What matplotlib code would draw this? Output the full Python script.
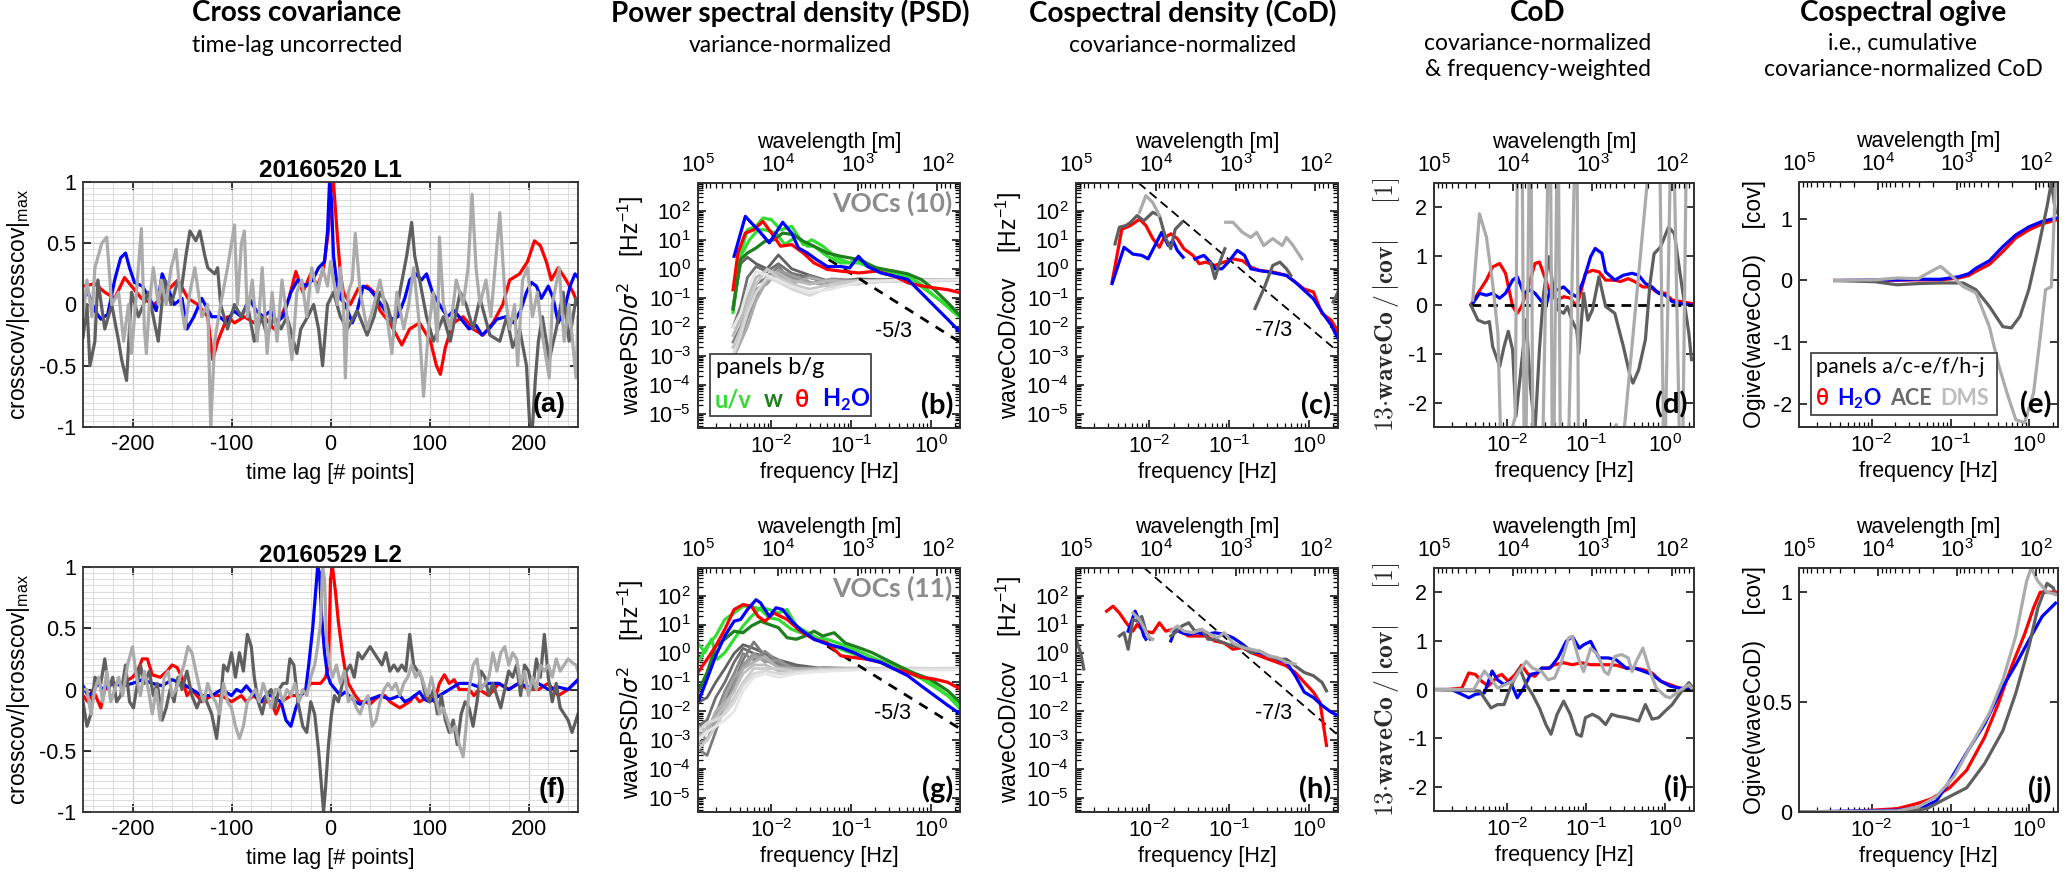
import matplotlib
matplotlib.use('Agg')
import matplotlib.pyplot as plt
from matplotlib import font_manager
from matplotlib.ticker import MultipleLocator, FixedLocator, FuncFormatter, LogLocator, NullFormatter
from matplotlib.patches import Rectangle
import numpy as np

nan = float('nan')

# ---------------- fonts ----------------
_names = {f.name for f in font_manager.fontManager.ttflist}
if 'Liberation Sans Narrow' in _names:
    AX_FONT = ['Liberation Sans Narrow', 'DejaVu Sans']
    FS = 17
else:
    AX_FONT = ['Liberation Sans', 'DejaVu Sans']
    FS = 15.5
HEAD_FONT = ['Lato', 'DejaVu Sans']
plt.rcParams['font.family'] = AX_FONT
plt.rcParams['axes.unicode_minus'] = False

RED = '#ff0000'
BLUE = '#0000ff'
ACE = '#5f5f5f'
DMS = '#ababab'
UV = '#33dd33'
WW = '#1f7f1f'

U_AIR = 120.0          # m/s, converts frequency to wavelength
F_LIM = (1.2e-3, 2.3)

# ---------------- (a) cross covariance, 20160520 L1 : (lag, value) ----------------
A_RED = [(-250,.15),(-238,.17),(-228,.1),(-218,.05),(-208,.22),(-201,.15),(-191,.05),(-178,0),(-164,.12),
         (-154,.2),(-144,.05),(-134,0),(-124,-.1),(-119,-.45),(-114,-.3),(-104,-.1),(-97,-.15),(-87,-.1),
         (-77,-.15),(-67,-.1),(-57,-.2),(-50,-.1),(-42,.05),(-35,.27),(-28,.1),(-20,.25),(-13,.15),(-7,.3),
         (-2,.6),(1,1),(3,1),(7,.55),(10,.25),(13,.1),(20,0),(28,.13),(37,.15),(44,.1),(50,-.05),(60,-.15),
         (72,-.33),(80,-.2),(90,-.15),(101,-.3),(107,-.5),(111,-.57),(116,-.35),(124,-.15),(134,-.1),
         (144,-.2),(154,-.25),(164,-.15),(174,0),(181,.2),(191,.25),(199,.35),(206,.52),(212,.48),(218,.35),
         (223,.2),(230,.3),(238,.2),(245,.1),(250,0)]
A_BLUE = [(-250,.05),(-245,.1),(-238,-.05),(-232,-.12),(-225,-.08),(-218,.2),(-212,.38),(-207,.42),(-203,.3),
          (-198,.18),(-190,.15),(-183,.05),(-176,-.05),(-170,.25),(-165,.15),(-158,0),(-150,.05),(-145,-.2),
          (-138,-.1),(-130,.05),(-120,-.1),(-112,-.1),(-105,-.15),(-98,-.05),(-90,-.1),(-82,.05),(-75,-.05),
          (-68,-.1),(-60,-.05),(-55,-.15),(-48,-.1),(-40,.1),(-33,.2),(-25,.15),(-18,.2),(-12,.3),(-6,.35),
          (-3,.6),(-1,1),(1,.85),(3,.4),(6,.2),(10,.05),(15,0),(22,-.15),(27,-.05),(33,.15),(40,.12),(47,.05),
          (55,-.05),(62,-.12),(68,-.1),(75,.05),(80,.2),(86,.25),(92,.2),(97,.25),(103,.1),(110,0),(118,-.1),
          (125,-.05),(132,-.12),(140,-.2),(147,-.17),(153,-.25),(160,-.2),(168,-.12),(177,-.1),(185,-.15),
          (192,-.05),(198,.1),(203,.18),(208,.15),(213,.05),(220,.15),(225,.05),(230,-.15),(236,-.05),
          (242,.15),(247,.25),(250,.22)]
A_ACE = [(-250,-.27),(-246,0),(-243,-.5),(-238,-.3),(-235,.2),(-228,-.2),(-221,0),(-214,-.3),(-211,-.45),
         (-206,-.62),(-201,.1),(-194,-.1),(-184,.1),(-174,-.3),(-168,.2),(-161,0),(-154,.2),(-151,.1),
         (-146,.4),(-142,.6),(-136,.52),(-132,.6),(-127,.4),(-124,.3),(-117,.25),(-114,.3),(-111,0),
         (-104,-.2),(-97,0),(-90,-.1),(-84,0),(-77,-.3),(-70,-.1),(-64,-.25),(-57,-.1),(-50,-.2),(-44,-.1),
         (-34,-.4),(-30,-.2),(-23,-.1),(-17,0),(-12,-.2),(-8,-.5),(-3,0),(3,.1),(10,-.1),(17,-.2),(27,-.05),
         (37,-.25),(44,-.1),(50,.1),(57,0),(64,-.2),(70,.1),(77,.4),(82,.67),(85,.4),(90,.2),(97,-.1),
         (104,-.3),(114,-.1),(121,-.3),(131,.1),(137,0),(144,-.2),(151,.05),(161,-.25),(171,-.3),(178,-.1),
         (184,-.35),(191,-.2),(198,-.5),(201,-.95),(204,-1),(207,-.6),(210,-.3),(214,-.1),(221,-.45),
         (228,-.2),(235,.1),(241,-.3),(248,.05),(250,0)]
A_DMS = [(-250,-.1),(-246,.2),(-241,-.1),(-238,.3),(-231,.5),(-226,.55),(-221,0),(-214,.1),(-209,-.3),
         (-204,0),(-201,-.4),(-196,.1),(-191,.62),(-188,-.2),(-186,-.4),(-183,0),(-179,.3),(-174,0),(-171,.2),
         (-166,0),(-161,.3),(-156,.45),(-151,0),(-147,-.2),(-142,.1),(-137,.3),(-130,-.1),(-124,0),(-121,-1),
         (-117,-.3),(-111,0),(-104,.3),(-97,.65),(-94,0),(-90,.5),(-87,.6),(-84,-.1),(-79,.2),(-74,-.3),
         (-69,.3),(-64,-.4),(-59,.1),(-54,-.3),(-49,.2),(-44,-.1),(-39,-.45),(-34,.1),(-29,.2),(-24,-.1),
         (-19,.3),(-13,.1),(-8,.3),(-3,.15),(0,.35),(7,0),(10,.3),(13,0),(15,-.6),(18,.1),(22,.2),(25,.58),
         (30,.1),(37,-.2),(44,0),(50,.2),(57,-.1),(62,-.4),(67,.1),(74,-.2),(79,0),(84,.3),(89,-.1),
         (94,-.75),(99,-.2),(104,.1),(108,-.3),(110,.55),(114,0),(121,-.2),(127,.2),(134,0),(139,.3),
         (143,.9),(147,.3),(151,0),(157,.2),(162,-.1),(171,.75),(176,.1),(181,-.2),(186,0),(189,-.5),
         (194,.2),(199,.3),(204,-.1),(209,.1),(214,-.25),(221,-.6),(224,0),(231,.3),(236,-.3),(241,0),
         (248,-.6),(250,-.1)]

# ---------------- (f) cross covariance, 20160529 L2 ----------------
F_RED = [(-250,-.05),(-245,-.1),(-240,0),(-232,-.15),(-228,0),(-220,.05),(-210,.05),(-200,.1),(-195,.15),
         (-190,.25),(-185,.25),(-180,.12),(-172,.1),(-165,.15),(-160,.2),(-155,.18),(-150,.1),(-145,-.05),
         (-140,0),(-135,-.05),(-130,-.1),(-120,-.05),(-110,-.05),(-100,-.1),(-90,-.05),(-85,-.1),(-78,-.05),
         (-70,-.1),(-60,-.1),(-55,-.2),(-50,-.1),(-40,-.05),(-30,-.05),(-25,0),(-20,.05),(-15,.05),(-10,.05),
         (-5,.1),(-2,.2),(0,.9),(2,1),(5,.8),(8,.55),(12,.3),(15,.15),(18,.05),(25,-.05),(30,-.1),(35,-.1),
         (40,-.12),(45,-.08),(50,-.05),(55,-.05),(60,-.1),(70,-.15),(80,-.1),(85,-.05),(90,-.1),(100,-.05),
         (105,-.1),(110,.05),(115,.12),(120,.05),(125,.08),(130,0),(140,0),(145,-.05),(150,0),(160,-.05),
         (170,.05),(180,0),(190,.05),(200,0),(210,0),(220,.05),(230,-.05),(240,0),(250,.08)]
F_BLUE = [(-250,.03),(-245,-.05),(-240,-.02),(-235,.05),(-230,0),(-220,.05),(-210,.03),(-200,.05),(-190,.08),
          (-180,.05),(-170,.03),(-160,.08),(-150,.05),(-140,0),(-130,-.05),(-120,-.05),(-110,0),(-100,-.05),
          (-95,0),(-90,-.02),(-85,.03),(-80,-.02),(-70,-.1),(-65,-.05),(-60,-.05),(-50,-.1),(-45,-.25),
          (-40,-.3),(-35,-.15),(-30,-.05),(-25,0),(-22,.2),(-18,.5),(-15,.8),(-13,1),(-11,.95),(-9,.6),
          (-6,.3),(-3,.12),(0,.05),(5,0),(10,-.05),(15,-.02),(25,-.1),(30,-.12),(40,-.08),(50,-.05),(60,-.08),
          (70,-.05),(75,-.1),(80,-.08),(85,-.05),(90,-.02),(95,-.08),(100,-.1),(110,-.05),(120,0),(130,.05),
          (140,.05),(150,.02),(160,.05),(170,.05),(180,0),(190,.05),(200,.02),(210,.05),(220,0),(230,.02),
          (240,0),(250,.08)]
F_ACE = [(-250,-.1),(-246,-.3),(-242,-.2),(-238,.1),(-232,.05),(-228,.25),(-224,0),(-220,.1),(-216,-.1),
         (-212,-.05),(-207,.2),(-203,-.1),(-199,-.15),(-196,0),(-192,.2),(-188,.05),(-183,.15),(-179,-.05),
         (-175,.05),(-170,-.25),(-166,-.15),(-162,0),(-158,-.1),(-154,.1),(-150,0),(-145,.15),(-140,-.05),
         (-135,-.15),(-130,-.05),(-125,-.1),(-120,-.2),(-115,-.4),(-111,-.1),(-108,.2),(-104,.15),(-100,.3),
         (-96,.1),(-92,.3),(-88,.15),(-84,.45),(-80,.35),(-77,.1),(-73,-.1),(-69,-.2),(-65,-.05),(-60,0),
         (-56,-.15),(-52,0),(-48,.05),(-44,.05),(-41,.25),(-37,.2),(-33,-.1),(-28,-.3),(-24,-.35),(-20,-.1),
         (-16,-.2),(-12,-.5),(-9,-.8),(-7,-1),(-5,-.8),(-2,-.45),(1,-.2),(4,-.05),(8,-.1),(12,.05),(16,.15),
         (20,.2),(24,.1),(28,.3),(32,.25),(36,.3),(40,.35),(44,.3),(48,.25),(52,.2),(56,.3),(60,.15),(64,.2),
         (68,.15),(72,.2),(76,.15),(80,.45),(84,.2),(88,.15),(92,.1),(96,-.05),(100,-.1),(104,0),(108,-.2),
         (112,-.05),(116,-.25),(120,-.35),(124,-.25),(128,-.45),(132,-.2),(136,-.1),(140,-.15),(144,-.3),
         (148,-.1),(152,.15),(156,.1),(160,-.05),(164,.05),(168,-.05),(172,-.15),(176,0),(180,.15),(184,.1),
         (188,.2),(192,-.05),(196,.2),(200,.15),(204,0),(208,.25),(212,.1),(216,.45),(220,.1),(224,-.1),
         (228,.05),(232,-.15),(236,-.2),(240,-.25),(244,-.35),(248,-.25),(250,-.2)]
F_DMS = [(-250,0),(-246,0),(-242,-.2),(-238,0),(-234,.1),(-230,-.1),(-226,.15),(-222,-.1),(-218,0),(-214,.1),
         (-210,-.05),(-205,.2),(-200,.35),(-196,.1),(-192,-.05),(-188,.15),(-184,0),(-180,-.2),(-176,0),
         (-172,-.25),(-168,.1),(-164,.15),(-160,-.05),(-156,0),(-152,.1),(-148,.2),(-144,.35),(-140,.3),
         (-136,.15),(-132,0),(-128,-.1),(-124,.05),(-120,-.05),(-116,-.1),(-112,-.2),(-108,.05),(-104,-.1),
         (-100,-.15),(-96,-.3),(-92,-.4),(-88,-.3),(-84,-.1),(-80,-.05),(-76,0),(-72,-.1),(-68,.05),
         (-64,-.05),(-60,-.15),(-56,0),(-52,0),(-48,-.1),(-44,0),(-40,-.05),(-36,.05),(-32,-.1),(-28,0),
         (-24,-.05),(-20,.1),(-16,.2),(-13,.35),(-10,.55),(-8,1),(-6,.9),(-4,.4),(-1,.2),(2,.1),(6,.2),
         (10,.05),(14,.15),(18,-.1),(22,-.05),(26,-.15),(30,-.2),(34,-.1),(38,-.05),(42,-.3),(46,-.25),
         (50,-.1),(54,0),(58,.05),(62,0),(66,.05),(70,-.05),(74,.05),(78,.1),(82,.2),(86,.1),(90,.15),
         (94,.05),(98,-.05),(102,.1),(106,-.05),(110,-.2),(114,-.15),(118,-.25),(122,-.35),(126,-.3),
         (130,-.45),(134,-.55),(137,-.3),(140,0),(144,.2),(148,.25),(152,0),(156,.05),(160,.1),(164,.3),
         (168,.15),(172,.3),(176,.35),(180,.2),(184,.3),(188,.25),(192,.05),(196,.15),(200,-.05),(204,.1),
         (208,0),(212,.2),(216,.15),(220,.2),(224,.1),(228,.25),(232,.15),(236,.2),(240,.25),(244,.22),
         (248,.2),(250,.15)]

# ---------------- (b) PSD, 20160520 L1 : (frequency Hz, wavePSD/sigma^2) ----------------
B_BLUE = [(.0034,2.7),(.0047,64),(.0056,38),(.0068,22),(.0094,7.8),(.0138,40),(.0179,17),(.0218,5.2),
          (.0282,3.5),(.0364,2.1),(.050,1.2),(.074,1.2),(.095,1.07),(.123,2.7),(.16,1.2),(.235,.72),
          (.345,.56),(.51,.43),(.75,.15),(1.1,.052),(1.62,.018),(2.32,.0065)]
B_RED = [(.0033,.19),(.0038,3.5),(.0047,17),(.006,22),(.0078,43),(.01,17),(.013,6.0),(.0179,6.8),(.025,3.5),
         (.034,1.6),(.05,.95),(.074,.83),(.123,.72),(.207,.83),(.345,.56),(.51,.33),(.75,.26),(1.1,.22),
         (1.62,.19),(2.32,.15)]
B_UV1 = [(.0033,.041),(.0041,3.5),(.005,22),(.0064,29),(.0078,56),(.01,49),(.013,22),(.018,29),(.025,6.8),
         (.032,10),(.044,6.0),(.065,2.4),(.095,1.6),(.123,2.4),(.18,1.2),(.30,.83),(.51,.56),(.75,.29),
         (1.1,.115),(1.62,.052),(2.32,.024)]
B_UV2 = [(.0033,.031),(.0041,2.7),(.0053,10),(.0068,22),(.0083,22),(.0114,17),(.0147,6.8),(.0204,13),
         (.028,6.0),(.034,6.0),(.05,2.7),(.074,1.6),(.123,1.6),(.207,.95),(.345,.67),(.58,.43),(.85,.19),
         (1.25,.089),(1.84,.035),(2.32,.021)]
B_W = [(.0033,.041),(.0041,2.1),(.005,3.5),(.0064,5.2),(.0083,8.9),(.0107,10),(.0138,17),(.019,15),(.025,8.9),
       (.034,6.0),(.05,3.5),(.074,2.7),(.123,2.1),(.207,1.07),(.345,.83),(.51,.67),(.75,.43),(1.1,.19),
       (1.62,.068),(2.32,.024)]
B_VOC_F = [.0033, .0041, .005, .0064, .0088, .0122, .0179, .030, .057, .123, .345, .97, 2.32]
B_VOC = [
    [.05, 1.5, 2.5, 1.5, 1.0, 3.0, 1.0, .6, .35, .45, .4, .42, .4],
    [.01, .05, .5, 1.2, .8, 1.5, .7, .5, .3, .4, .42, .4, .4],
    [.003, .01, .05, .3, .5, 1.2, .4, .6, .3, .35, .45, .4, .42],
    [.001, .004, .02, .1, .6, .8, .5, .3, .45, .4, .38, .42, .4],
    [.002, .006, .03, .2, .3, .9, .6, .35, .25, .4, .4, .38, .41],
    [.0008, .003, .01, .08, .4, .6, .3, .5, .35, .3, .42, .4, .4],
    [.005, .02, .1, .5, .9, .7, .4, .3, .4, .35, .4, .4, .43],
    [.002, .008, .05, .3, 1.0, .5, .3, .2, .3, .4, .38, .4, .4],
    [.001, .005, .03, .15, .5, .35, .2, .12, .25, .3, .4, .42, .4],
    [.01, .03, .2, .8, .6, .4, .25, .15, .2, .35, .4, .4, .42],
]
B_SLOPE = [(.052, 2.1), (2.3, .003)]       # -5/3 guide
B_SLOPE_TXT = (.34, .0072)

# ---------------- (c) CoD, 20160520 L1 ----------------
C_BLUE = [(.0034,.31),(.0048,5.5),(.0062,3.2),(.008,2.9),(.0096,2.2),(.0117,6.3),(.0142,18),(.0172,6.3),
          (.0196,9.3),(.0223,4.3),(.0264,2.5),(.031,nan),(.037,2.2),(.048,2.9),(.058,1.7),(.066,1.0),
          (.081,1.0),(.097,1.7),(.126,4.3),(.155,2.9),(.186,1.0),(.24,.87),(.31,.78),(.40,.68),(.52,.59),
          (.67,.35),(.87,.18),(1.13,.093),(1.45,.032),(1.89,.0115),(2.3,.004)]
C_RED = [(.0034,.35),(.0045,23),(.0058,31),(.0075,51),(.009,31),(.011,11),(.0133,5.5),(.015,11),(.0185,16),
         (.0223,11),(.027,4.9),(.035,2.9),(.042,1.5),(.051,1.7),(.066,1.3),(.086,1.7),(.111,2.2),(.146,1.9),
         (.186,1.15),(.24,.87),(.35,.78),(.52,.59),(.87,.2),(1.13,.16),(1.45,.029),(1.89,.017),(2.3,.0068)]
C_ACE = [(.0037,7.2),(.0042,27),(.0051,31),(.0058,40),(.007,68),(.0085,45),(.011,88),(.0133,68),(.016,11),
         (.0185,4.9),(.021,23),(.0255,40),(.04,nan),(.058,1.7),(.066,.46),(.076,1.7),(.088,4.9),(.15,nan),
         (.21,.043),(.27,.2),(.35,1.3),(.43,1.7),(.52,1.0),(.59,.59),(1.5,nan),(2.0,.072),(2.3,.16)]
C_DMS = [(.0075,88),(.009,330),(.011,190),(.0133,68),(.05,nan),(.09,40),(.111,40),(.146,18),(.186,12),
         (.22,18),(.27,6.3),(.35,11),(.46,6.3),(.52,12),(.63,6.3),(.81,2.2)]
C_SLOPE = [(.0073, 900), (2.3, .0014)]     # -7/3 guide
C_SLOPE_TXT = (.36, .0078)

# ---------------- (d) frequency-weighted CoD, 20160520 L1 ----------------
D_RED = [(.0035,0),(.0043,.24),(.0055,.51),(.0066,.78),(.0081,.85),(.0096,.65),(.0118,-.03),(.0135,-.17),
         (.0153,-.03),(.0186,.37),(.0226,.85),(.0257,.88),(.031,.51),(.035,.24),(.043,.1),(.052,.17),
         (.063,.14),(.076,-.03),(.087,.31),(.098,.65),(.12,.71),(.145,.68),(.176,.51),(.23,.51),(.27,.48),
         (.34,.54),(.41,.48),(.52,.37),(.64,.37),(.77,.27),(1.0,.24),(1.22,.1),(1.6,.07),(2.14,.03)]
D_BLUE = [(.0037,.03),(.0045,.24),(.0055,.2),(.0066,.24),(.0081,.14),(.0096,.24),(.0118,.51),(.0135,.58),
          (.0163,.24),(.0198,.31),(.0226,.24),(.0275,.07),(.031,-.03),(.035,.31),(.043,.31),(.052,.37),
          (.063,.24),(.076,.17),(.093,.51),(.114,.99),(.13,1.16),(.158,1.06),(.176,.68),(.23,.51),(.295,.61),
          (.38,.65),(.46,.61),(.56,.44),(.68,.37),(.82,.24),(1.0,.2),(1.22,.07),(1.5,.03),(2.14,0)]
D_ACE = [(.0035,0),(.0043,-.31),(.0053,-.37),(.006,-.34),(.0066,-.85),(.0081,-1.26),(.0092,-.85),
         (.0104,-.54),(.0118,-.92),(.013,-2.28),(.015,-1.33),(.0175,-.3),(.0198,-1.67),(.0226,-2.6),
         (.0257,-.92),(.029,.24),(.034,.99),(.039,.24),(.044,-.1),(.052,-.17),(.058,-.03),(.066,-.31),
         (.076,-.51),(.081,-.99),(.093,.24),(.105,-.31),(.12,-.1),(.145,.58),(.176,-.03),(.23,-.17),
         (.295,-.85),(.36,-1.46),(.39,-1.6),(.46,-1.33),(.56,-.71),(.64,.44),(.72,1.05),(.87,1.19),
         (1.1,1.6),(1.3,1.46),(1.6,.44),(1.98,-.58),(2.14,-1.12)]
D_DMS = [(.0037,.1),(.0045,1.87),(.0055,1.4),(.0066,.44),(.0077,-.58),(.0084,-3),(.0096,-3),(.0127,-2.3),
         (.0139,5),(.0153,5),(.0168,-5),(.0198,5),(.0217,-5),(.0275,-4),(.035,5),(.038,-5),(.044,5),
         (.048,-5),(.058,-4),(.076,5),(.081,-5),(.114,-4),(.24,-2.45),(.25,-4),(.82,5),(.97,-4),(1.22,5),
         (1.6,-5),(1.9,5),(2.14,3)]
D_ZERO = [(.0035, 0), (2.3, 0)]

# ---------------- (e) ogive, 20160520 L1 ----------------
E_RED = [(.0034,0),(.021,.005),(.039,.01),(.075,.01),(.126,.04),(.17,.08),(.21,.15),(.31,.26),(.46,.47),
         (.67,.69),(.98,.82),(1.45,.92),(2.14,.98)]
E_BLUE = [(.0034,0),(.021,.01),(.039,.02),(.075,.02),(.126,.06),(.17,.11),(.21,.2),(.31,.32),(.46,.55),
          (.67,.74),(.98,.87),(1.45,.96),(2.14,1.01)]
E_ACE = [(.0034,0),(.011,-.02),(.021,-.07),(.039,-.05),(.075,-.04),(.145,-.04),(.21,-.15),(.31,-.42),
         (.46,-.75),(.59,-.77),(.76,-.58),(.98,-.15),(1.28,.5),(1.67,1.2),(1.9,1.6),(2.14,1.1)]
E_DMS = [(.0034,0),(.011,.01),(.021,.04),(.039,.03),(.057,.15),(.075,.23),(.098,.1),(.145,-.1),(.21,-.2),
         (.31,-.75),(.41,-1.39),(.52,-1.83),(.67,-2.26),(.87,-2.31),(1.13,-1.82),(1.39,-.85),(1.6,-.15),
         (1.9,-.1),(2.14,1.6)]

# ---------------- (g) PSD, 20160529 L2 ----------------
G_BLUE = [(.0012,.02),(.00156,.13),(.002,.83),(.0026,4.0),(.0034,13),(.0041,15),(.005,33),(.0064,72),
          (.0073,56),(.0094,19),(.0114,38),(.0138,33),(.018,13),(.023,6.8),(.034,3.1),(.05,2.1),(.074,1.6),
          (.108,1.07),(.16,.63),(.235,.49),(.345,.29),(.51,.17),(.75,.076),(1.1,.035),(1.62,.016),(2.32,.0081)]
G_RED = [(.0012,.22),(.00156,.63),(.002,1.8),(.0026,6.8),(.0034,33),(.0044,49),(.0056,43),(.0068,19),
         (.0083,13),(.0107,25),(.0157,15),(.023,5.9),(.034,3.1),(.05,2.3),(.074,.83),(.108,.72),(.16,.63),
         (.235,.49),(.345,.29),(.51,.22),(.75,.15),(1.1,.13),(1.62,.1),(2.32,.059)]
G_UV1 = [(.0012,2.3),(.00146,1.07),(.00177,3.1),(.0021,.63),(.0026,1.07),(.0034,3.1),(.0044,8.9),(.0056,19),
         (.0073,38),(.0094,33),(.0122,25),(.0157,33),(.0204,8.9),(.0264,5.9),(.034,4.0),(.05,2.3),(.074,1.4),
         (.123,.83),(.207,.55),(.345,.32),(.58,.22),(.97,.087),(1.62,.035),(2.32,.016)]
G_UV2 = [(.0012,.49),(.00156,1.8),(.002,4.0),(.0026,15),(.0034,25),(.0044,43),(.0056,43),(.0073,33),
         (.0094,17),(.0122,15),(.0179,6.8),(.0264,4.6),(.034,3.5),(.05,3.1),(.074,2.1),(.123,1.2),
         (.207,.63),(.345,.37),(.58,.19),(.97,.1),(1.62,.035),(2.32,.012)]
G_W = [(.0012,.046),(.00156,.22),(.002,1.8),(.0026,3.1),(.0034,5.9),(.0044,5.2),(.0056,8.9),(.0073,13),
       (.0094,10),(.0122,7.8),(.0157,3.5),(.0204,3.1),(.0264,4.0),(.034,5.9),(.044,4.0),(.061,5.2),
       (.084,2.3),(.123,1.6),(.182,1.07),(.267,.63),(.393,.37),(.58,.22),(.97,.13),(1.62,.051),(2.32,.02)]
G_VOC_F = [.0012, .00156, .002, .0026, .0034, .0044, .006, .0083, .0122, .0204, .044, .123, .447, 2.32]
G_VOC = [
    [.02, .03, .1, .3, 1.0, 2.0, 1.5, 1.0, .6, .4, .3, .3, .3, .3],
    [.003, .005, .03, .1, .5, 1.5, 1.0, .8, .5, .35, .3, .3, .29, .3],
    [.0005, .0003, .002, .02, .1, .6, 2.5, .8, .4, .3, .3, .31, .3, .3],
    [.001, .002, .008, .05, .2, 1.0, .6, 1.2, .5, .3, .27, .3, .3, .29],
    [.002, .001, .005, .01, .08, .4, 1.0, .5, .6, .25, .33, .3, .31, .3],
    [.0008, .001, .004, .03, .15, .3, .8, .6, .35, .28, .25, .3, .3, .3],
    [.003, .002, .01, .02, .05, .3, .5, .8, .3, .3, .3, .29, .3, .31],
    [.001, .003, .006, .015, .05, .2, .4, .4, .25, .22, .28, .3, .3, .3],
    [.0005, .001, .003, .01, .03, .1, .3, .3, .3, .24, .28, .3, .3, .3],
    [.002, .004, .005, .008, .02, .08, .2, .25, .2, .22, .26, .28, .3, .3],
    [.001, .002, .003, .005, .01, .05, .15, .2, .15, .2, .24, .27, .27, .27],
]
G_SLOPE = [(.05, 1.8), (2.3, .0025)]
G_SLOPE_TXT = (.33, .0081)

# ---------------- (h) CoD, 20160529 L2 ----------------
H_RED = [(.0029,29),(.0035,43),(.0042,25),(.0051,11.5),(.0062,5.9),(.007,10),(.0085,5.9),(.011,5.2),
         (.0133,11.5),(.016,5.9),(.0196,6.8),(.024,5.9),(.031,4.0),(.04,4.0),(.051,4.0),(.066,2.7),(.086,2.3),
         (.111,1.4),(.146,1.6),(.186,1.07),(.24,.83),(.31,.63),(.40,.49),(.52,.37),(.67,.22),(.87,.1),
         (1.13,.046),(1.37,.02),(1.45,.0071),(1.65,.00066)]
H_BLUE = [(.0054,5.9),(.0066,29),(.0075,13),(.0085,4.0),(.009,3.1),(.013,nan),(.0185,2.7),(.021,6.8),
          (.0255,5.2),(.031,4.6),(.04,5.2),(.051,4.6),(.066,5.2),(.086,4.6),(.111,3.5),(.146,2.1),(.186,1.2),
          (.24,1.07),(.31,.83),(.40,.63),(.52,.49),(.67,.17),(.87,.046),(1.13,.03),(1.45,.016),(1.89,.0093),
          (2.3,.0071)]
H_ACE = [(.0012,3.1),(.00137,1.07),(.0015,.29),(.003,nan),(.0042,4.0),(.0048,5.2),(.0054,1.4),(.0062,15),
         (.007,13),(.008,19),(.009,5.9),(.0102,3.1),(.014,nan),(.0185,4.0),(.021,5.2),(.0255,8.9),(.031,11.5),
         (.037,5.9),(.045,6.8),(.054,3.1),(.066,3.1),(.086,2.3),(.111,1.8),(.146,1.8),(.186,1.07),(.24,1.2),
         (.31,.83),(.40,.63),(.52,.63),(.67,.37),(.87,.22),(1.13,.17),(1.45,.1),(1.65,.051)]
H_DMS = [(.0062,25),(.0075,15),(.0096,4.0),(.011,3.1),(.015,nan),(.0185,5.9),(.0223,8.9),(.027,5.9),
         (.035,5.2),(.045,6.8),(.058,4.6),(.071,3.5),(.086,5.2),(.111,2.3),(.146,1.6),(.186,1.4),(.24,1.2),
         (.31,.83),(.40,.72),(.52,.49),(.67,.43)]
H_SLOPE = [(.0085, 930), (2.3, .0015)]
H_SLOPE_TXT = (.36, .0081)

# ---------------- (i) frequency-weighted CoD, 20160529 L2 ----------------
I_RED = [(.0012,0),(.0018,0),(.0027,.03),(.0033,.34),(.004,.31),(.0048,.17),(.0058,.07),(.0076,.27),
         (.0086,.31),(.0104,.17),(.0127,.31),(.0153,.5),(.0186,.31),(.0226,.27),(.0275,.44),(.033,.44),
         (.04,.51),(.052,.55),(.067,.51),(.087,.55),(.114,.51),(.145,.51),(.19,.51),(.24,.5),(.32,.44),
         (.41,.44),(.52,.41),(.68,.34),(.88,.17),(1.15,.1),(1.5,.03),(2.14,0)]
I_BLUE = [(.0012,0),(.002,0),(.0027,-.1),(.0033,-.17),(.004,-.1),(.0052,-.07),(.0065,.38),(.0076,.2),
          (.0092,.1),(.011,.17),(.0135,-.17),(.0163,.03),(.0198,.31),(.024,.34),(.0275,.44),(.035,.44),
          (.044,.65),(.056,.99),(.067,1.09),(.082,.85),(.093,.92),(.114,.99),(.145,.65),(.19,.65),(.24,.61),
          (.32,.44),(.41,.44),(.52,.38),(.68,.31),(.88,.17),(1.15,.07),(1.5,.03),(2.14,0)]
I_ACE = [(.0012,0),(.0027,-.02),(.0045,-.03),(.0063,-.38),(.0076,-.31),(.0092,-.31),(.011,.03),(.0145,.44),
         (.0175,.1),(.021,-.1),(.0257,-.38),(.031,-.72),(.036,-.92),(.043,-.51),(.052,-.24),(.063,-.51),
         (.076,-.92),(.087,-.96),(.098,-.58),(.12,-.51),(.145,-.58),(.176,-.72),(.21,-.51),(.25,-.55),
         (.32,-.58),(.38,-.61),(.46,-.65),(.56,-.31),(.68,-.61),(.82,-.58),(1.0,-.44),(1.22,-.31),(1.5,-.1),
         (1.98,.14),(2.14,.07)]
I_DMS = [(.0012,0),(.0027,0),(.0038,0),(.0052,.38),(.0066,.17),(.0076,.03),(.0096,.1),(.0118,.17),
         (.0153,.44),(.0175,.58),(.021,.44),(.0275,.37),(.033,.2),(.04,.24),(.049,.58),(.06,1.06),(.067,1.09),
         (.082,.58),(.093,.37),(.114,.85),(.14,.72),(.17,.37),(.19,.31),(.23,.68),(.28,.72),(.34,.65),
         (.38,.37),(.43,.58),(.52,.85),(.64,.37),(.77,.03),(1.0,-.14),(1.15,-.17),(1.5,-.03),(1.98,.1),(2.14,.03)]
I_ZERO = [(.003, 0), (2.3, 0)]

# ---------------- (j) ogive, 20160529 L2 ----------------
J_RED = [(.0012,0),(.0058,.003),(.021,.015),(.039,.04),(.057,.06),(.097,.11),(.16,.19),(.27,.34),(.40,.49),
         (.59,.66),(.87,.81),(1.13,.93),(1.37,1.0),(2.14,1.0)]
J_BLUE = [(.0012,0),(.021,.008),(.045,.023),(.066,.05),(.097,.14),(.16,.27),(.27,.4),(.46,.57),(.67,.67),
          (.98,.78),(1.45,.89),(2.14,.95)]
J_ACE = [(.0012,0),(.027,.003),(.05,.015),(.097,.07),(.16,.11),(.27,.22),(.46,.37),(.67,.54),(.98,.75),
         (1.28,.93),(1.67,1.04),(2.0,1.02),(2.14,.99)]
J_DMS = [(.0012,0),(.021,.005),(.039,.023),(.066,.07),(.11,.16),(.18,.3),(.31,.45),(.46,.6),(.67,.8),
         (.92,1.05),(1.05,1.11),(1.28,1.05),(1.67,1.0),(2.14,.99)]

# ---------------- layout (pixel boxes: left, top, right, bottom) ----------------
W, H = 2067, 877
fig = plt.figure(figsize=(W / 100, H / 100), dpi=100)
fig.patch.set_facecolor('white')


def px_axes(x0, y0, x1, y1):
    return fig.add_axes([x0 / W, 1 - y1 / H, (x1 - x0) / W, (y1 - y0) / H])


def xy(pairs):
    a = np.array(pairs, dtype=float)
    return a[:, 0], a[:, 1]


def gfmt(v, pos):
    return '%g' % v


def frame(ax):
    for s in ax.spines.values():
        s.set_color('#333333')
        s.set_linewidth(1.3)


def freq_axes(ax, ylog):
    frame(ax)
    ax.set_xscale('log')
    ax.set_xlim(*F_LIM)
    ax.xaxis.set_major_locator(LogLocator(base=10, numticks=20))
    ax.xaxis.set_minor_locator(LogLocator(base=10, subs=np.arange(2, 10), numticks=50))
    ax.xaxis.set_minor_formatter(NullFormatter())
    ax.tick_params(which='both', direction='in', labelsize=FS, top=False, right=True, pad=5)
    ax.tick_params(which='major', length=6, width=1.1)
    ax.tick_params(which='minor', length=3.5, width=0.9)
    ax.set_xlabel('frequency [Hz]', fontsize=FS, labelpad=3)
    if ylog:
        ax.set_yscale('log')
        ax.set_ylim(3.3e-6, 9e2)
        ax.yaxis.set_major_locator(LogLocator(base=10, numticks=20))
        ax.yaxis.set_minor_locator(LogLocator(base=10, subs=np.arange(2, 10), numticks=50))
        ax.yaxis.set_minor_formatter(NullFormatter())
    top = ax.twiny()
    top.set_xscale('log')
    top.set_xlim(U_AIR / F_LIM[0] * 1.0005, U_AIR / F_LIM[1])
    top.xaxis.set_major_locator(LogLocator(base=10, numticks=20))
    top.xaxis.set_minor_locator(LogLocator(base=10, subs=np.arange(2, 10), numticks=50))
    top.xaxis.set_minor_formatter(NullFormatter())
    top.tick_params(which='both', direction='in', labelsize=FS, pad=4)
    top.tick_params(which='major', length=6, width=1.1)
    top.tick_params(which='minor', length=3.5, width=0.9)
    top.set_xlabel('wavelength [m]', fontsize=FS, labelpad=5)
    frame(top)
    return top


def panel_tag(ax, tag, font=HEAD_FONT, fs=21):
    ax.text(0.975, 0.035, tag, transform=ax.transAxes, ha='right', va='bottom',
            fontsize=fs, fontweight='bold', family=font, zorder=10)


def line(ax, pairs, color, lw=2.3, **kw):
    x, y = xy(pairs)
    ax.plot(x, y, color=color, lw=lw, solid_joinstyle='round', **kw)


# ---------------- cross covariance panels ----------------
def crosscov_panel(box, title, series, tag):
    ax = px_axes(*box)
    frame(ax)
    for pairs, col in series:
        line(ax, pairs, col, lw=2.3)
    ax.set_xlim(-250, 250)
    ax.set_ylim(-1, 1)
    ax.xaxis.set_major_locator(MultipleLocator(100))
    ax.xaxis.set_minor_locator(MultipleLocator(20))
    ax.yaxis.set_major_locator(MultipleLocator(0.5))
    ax.yaxis.set_minor_locator(MultipleLocator(0.05))
    ax.xaxis.set_major_formatter(FuncFormatter(gfmt))
    ax.yaxis.set_major_formatter(FuncFormatter(gfmt))
    ax.grid(which='major', color='#c8c8c8', lw=0.9)
    ax.grid(which='minor', color='#dedede', lw=0.8)
    ax.set_axisbelow(True)
    ax.tick_params(which='both', direction='in', labelsize=FS, top=True, right=True, pad=5)
    ax.tick_params(which='major', length=6, width=1.1)
    ax.tick_params(which='minor', length=0)
    ax.set_title(title, fontsize=FS + 2, fontweight='bold', pad=3)
    ax.set_xlabel('time lag [# points]', fontsize=FS, labelpad=6)
    ax.set_ylabel(r'crosscov/|crosscov|$_{\mathdefault{max}}$', fontsize=FS + 1)
    ax.yaxis.set_label_coords(-0.104, 0.5)
    panel_tag(ax, tag, font=AX_FONT, fs=FS + 4)
    return ax


crosscov_panel((83, 182, 578, 427), '20160520 L1',
               [(A_RED, RED), (A_BLUE, BLUE), (A_ACE, ACE), (A_DMS, DMS)], '(a)')
crosscov_panel((83, 567, 578, 812), '20160529 L2',
               [(F_RED, RED), (F_BLUE, BLUE), (F_ACE, ACE), (F_DMS, DMS)], '(f)')


# ---------------- PSD panels ----------------
def psd_panel(box, voc_f, vocs, greens, red, blue, slope, slope_txt, voc_label, tag, legend):
    ax = px_axes(*box)
    freq_axes(ax, True)
    shades = np.linspace(0.38, 0.9, len(vocs))
    for vals, s in zip(vocs, shades):
        ax.plot(voc_f, vals, color=str(s), lw=2.0)
    x, y = xy(slope)
    ax.plot(x, y, color='black', lw=2.0, ls=(0, (3.5, 3)))
    ax.text(slope_txt[0], slope_txt[1], '-5/3', fontsize=FS, ha='center', va='center')
    for pairs, col in greens:
        line(ax, pairs, col)
    line(ax, red, RED)
    line(ax, blue, BLUE)
    ax.text(0.97, 0.915, voc_label, transform=ax.transAxes, ha='right', va='center',
            fontsize=19, fontweight='bold', color='#8c8c8c', family=HEAD_FONT)
    ax.set_ylabel('wavePSD/$\\sigma^2$    [Hz$^{\\mathdefault{-1}}$]', fontsize=FS + 1)
    ax.yaxis.set_label_coords(-0.2, 0.5)
    panel_tag(ax, tag)
    if legend:
        ax.add_patch(Rectangle((0.045, 0.05), 0.615, 0.252, transform=ax.transAxes,
                               facecolor='white', edgecolor='#444444', lw=1.3, zorder=8))
        ax.text(0.07, 0.245, 'panels b/g', transform=ax.transAxes, fontsize=17,
                family=HEAD_FONT, va='center', zorder=9)
        for xx, txt, col in [(0.065, 'u/v', UV), (0.25, 'w', WW), (0.37, '\u03b8', RED),
                             (0.475, 'H$_\\mathdefault{2}$O', BLUE)]:
            ax.text(xx, 0.115, txt, transform=ax.transAxes, fontsize=17, fontweight='bold',
                    color=col, family=HEAD_FONT, va='center', zorder=9)
    return ax


psd_panel((698, 183, 960, 428), B_VOC_F, B_VOC, [(B_UV1, UV), (B_UV2, UV), (B_W, WW)],
          B_RED, B_BLUE, B_SLOPE, B_SLOPE_TXT, 'VOCs (10)', '(b)', True)
psd_panel((698, 568, 960, 812), G_VOC_F, G_VOC, [(G_UV1, UV), (G_UV2, UV), (G_W, WW)],
          G_RED, G_BLUE, G_SLOPE, G_SLOPE_TXT, 'VOCs (11)', '(g)', False)


# ---------------- CoD panels ----------------
def cod_panel(box, red, blue, ace, dms, slope, slope_txt, tag):
    ax = px_axes(*box)
    freq_axes(ax, True)
    x, y = xy(slope)
    ax.plot(x, y, color='black', lw=1.3, ls=(0, (5, 3)))
    ax.text(slope_txt[0], slope_txt[1], '-7/3', fontsize=FS, ha='center', va='center')
    line(ax, red, RED)
    line(ax, blue, BLUE)
    line(ax, ace, ACE)
    line(ax, dms, DMS)
    ax.set_ylabel('waveCoD/cov    [Hz$^{\\mathdefault{-1}}$]', fontsize=FS + 1)
    ax.yaxis.set_label_coords(-0.197, 0.5)
    panel_tag(ax, tag)
    return ax


cod_panel((1076, 183, 1338, 428), C_RED, C_BLUE, C_ACE, C_DMS, C_SLOPE, C_SLOPE_TXT, '(c)')
cod_panel((1076, 568, 1338, 812), H_RED, H_BLUE, H_ACE, H_DMS, H_SLOPE, H_SLOPE_TXT, '(h)')


# ---------------- frequency-weighted CoD panels ----------------
def wcod_panel(box, red, blue, ace, dms, zero, tag):
    ax = px_axes(*box)
    freq_axes(ax, False)
    ax.set_ylim(-2.5, 2.5)
    ax.yaxis.set_major_locator(FixedLocator([-2, -1, 0, 1, 2]))
    ax.yaxis.set_major_formatter(FuncFormatter(gfmt))
    line(ax, red, RED)
    line(ax, blue, BLUE)
    x, y = xy(zero)
    ax.plot(x, y, color='black', lw=2.0, ls=(0, (3.5, 2.5)))
    line(ax, ace, ACE)
    line(ax, dms, DMS)
    ax.set_ylabel(r'$\mathbf{13{\cdot}waveCo\,/\,|cov|}\quad\;\;\mathbf{[1]}$', fontsize=FS + 3,
                  math_fontfamily='cm', color='#2a2a2a')
    ax.yaxis.set_label_coords(-0.122, 0.5)
    panel_tag(ax, tag)
    return ax


wcod_panel((1434, 183, 1694, 427), D_RED, D_BLUE, D_ACE, D_DMS, D_ZERO, '(d)')
wcod_panel((1434, 568, 1694, 811), I_RED, I_BLUE, I_ACE, I_DMS, I_ZERO, '(i)')


# ---------------- ogive panels ----------------
def ogive_panel(box, red, blue, ace, dms, ylim, yticks, tag, legend):
    ax = px_axes(*box)
    freq_axes(ax, False)
    ax.set_ylim(*ylim)
    ax.yaxis.set_major_locator(FixedLocator(yticks))
    ax.yaxis.set_major_formatter(FuncFormatter(gfmt))
    line(ax, red, RED)
    line(ax, blue, BLUE)
    line(ax, ace, ACE)
    line(ax, dms, DMS)
    ax.set_ylabel('Ogive(waveCoD)    [cov]', fontsize=FS + 1)
    ax.yaxis.set_label_coords(-0.127, 0.5)
    panel_tag(ax, tag)
    if legend:
        ax.add_patch(Rectangle((0.045, 0.05), 0.72, 0.252, transform=ax.transAxes,
                               facecolor='white', edgecolor='#444444', lw=1.3, zorder=8))
        ax.text(0.065, 0.245, 'panels a/c-e/f/h-j', transform=ax.transAxes, fontsize=15.5,
                family=HEAD_FONT, va='center', zorder=9)
        for xx, txt, col in [(0.065, '\u03b8', RED), (0.145, 'H$_\\mathdefault{2}$O', BLUE),
                             (0.35, 'ACE', '#6a6a6a'), (0.545, 'DMS', '#bdbdbd')]:
            ax.text(xx, 0.115, txt, transform=ax.transAxes, fontsize=15.5, fontweight='bold',
                    color=col, family=HEAD_FONT, va='center', zorder=9)
    return ax


ogive_panel((1799, 182, 2058, 427), E_RED, E_BLUE, E_ACE, E_DMS, (-2.38, 1.6), [-2, -1, 0, 1], '(e)', True)
ogive_panel((1799, 568, 2058, 812), J_RED, J_BLUE, J_ACE, J_DMS, (0, 1.11), [0, 0.5, 1], '(j)', False)

# ---------------- column headers ----------------
HEADERS = [
    (297, 'Cross covariance', ['time-lag uncorrected']),
    (790, 'Power spectral density (PSD)', ['variance-normalized']),
    (1183, 'Cospectral density (CoD)', ['covariance-normalized']),
    (1538, 'CoD', ['covariance-normalized', '& frequency-weighted']),
    (1903, 'Cospectral ogive', ['i.e., cumulative', 'covariance-normalized CoD']),
]
for xc, head, subs in HEADERS:
    fig.text(xc / W, 1 - 13 / H, head, ha='center', va='center', fontsize=20,
             fontweight='bold', family=HEAD_FONT)
    for k, s in enumerate(subs):
        yy = 45 if len(subs) == 1 else 43 + 27 * k
        fig.text(xc / W, 1 - yy / H, s, ha='center', va='center', fontsize=16.5, family=HEAD_FONT)

fig.savefig('out.png', dpi=100, facecolor='white')
